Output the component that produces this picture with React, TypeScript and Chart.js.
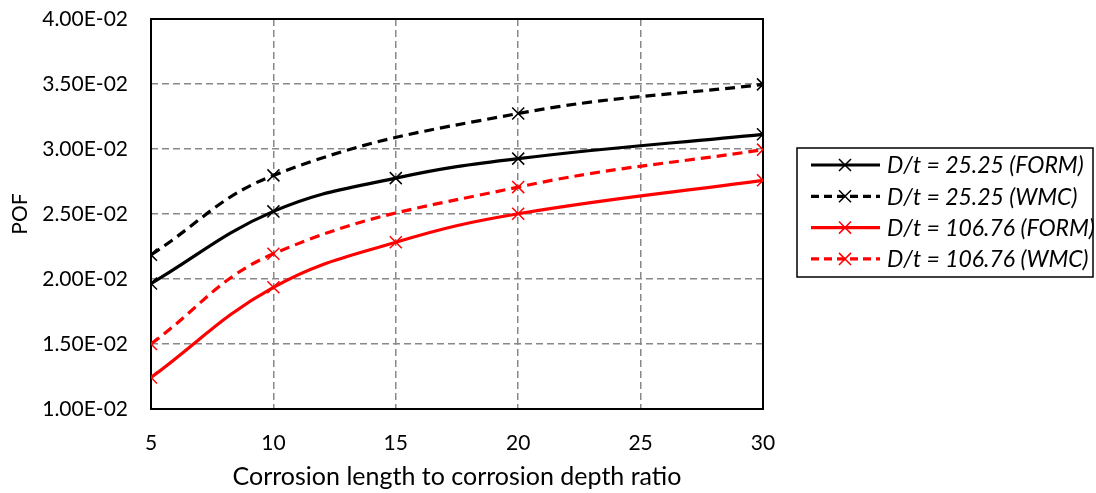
import React, { useEffect, useRef } from 'react';
import { Chart, registerables } from 'chart.js';

Chart.register(...registerables);

// Data (POF values)
const xForm = [5, 10, 15, 20, 30];
const xWmc = [5, 10, 20, 30];
const formThick = [0.01965, 0.0252, 0.02776, 0.02926, 0.03113];
const wmcThick = [0.02186, 0.02797, 0.03273, 0.03497];
const formThin = [0.01242, 0.01936, 0.02283, 0.02502, 0.02759];
const wmcThin = [0.015, 0.02194, 0.02707, 0.02995];
const seriesLabels = [
  'D/t = 25.25 (FORM)',
  'D/t = 25.25 (WMC)',
  'D/t = 106.76 (FORM)',
  'D/t = 106.76 (WMC)',
];
const xTitle = 'Corrosion length to corrosion depth ratio';
const yTitle = 'POF';

const FONT = 'Lato, "Open Sans", sans-serif';

const fmtSci = (v: number) =>
  v.toExponential(2).toUpperCase().replace(/E([+-])(\d)$/, 'E$10$2');

const toPts = (xs: number[], ys: number[]) => xs.map((x, i) => ({ x, y: ys[i] }));

const boxPlugin = {
  id: 'plotBox',
  beforeDatasetsDraw(chart: any) {
    const { ctx, chartArea } = chart;
    ctx.save();
    ctx.strokeStyle = '#000';
    ctx.lineWidth = 2;
    ctx.setLineDash([]);
    ctx.strokeRect(chartArea.left, chartArea.top, chartArea.right - chartArea.left, chartArea.bottom - chartArea.top);
    ctx.restore();
  },
};

const legendPlugin = {
  id: 'customLegend',
  afterDraw(chart: any) {
    const { ctx } = chart;
    const bx = 797, by = 148, bw = 296, bh = 129;
    ctx.save();
    ctx.strokeStyle = '#000';
    ctx.lineWidth = 1.5;
    ctx.setLineDash([]);
    ctx.strokeRect(bx, by, bw, bh);
    const rowY0 = 165;
    const rowH = 31.3;
    chart.data.datasets.forEach((ds: any, i: number) => {
      const y = rowY0 + i * rowH;
      ctx.strokeStyle = ds.borderColor;
      ctx.lineWidth = ds.borderWidth;
      ctx.setLineDash(ds.borderDash && ds.borderDash.length ? [8, 5] : []);
      ctx.beginPath();
      ctx.moveTo(811, y);
      ctx.lineTo(880, y);
      ctx.stroke();
      ctx.setLineDash([]);
      ctx.lineWidth = ds.pointBorderWidth;
      ctx.strokeStyle = ds.pointBorderColor;
      const r = ds.pointRadius * Math.SQRT1_2;
      ctx.beginPath();
      ctx.moveTo(845 - r, y - r);
      ctx.lineTo(845 + r, y + r);
      ctx.moveTo(845 - r, y + r);
      ctx.lineTo(845 + r, y - r);
      ctx.stroke();
      ctx.fillStyle = '#000';
      ctx.font = `italic 23px ${FONT}`;
      ctx.textBaseline = 'middle';
      ctx.textAlign = 'left';
      ctx.fillText(ds.label, 887, y + 1);
    });
    ctx.restore();
  },
};

export default function App() {
  const ref = useRef<HTMLCanvasElement>(null);
  useEffect(() => {
    document.body.style.margin = '0';
    const mk = (label: string, xs: number[], ys: number[], color: string, dashed: boolean) => ({
      label,
      data: toPts(xs, ys),
      borderColor: color,
      backgroundColor: color,
      borderWidth: 3.2,
      borderDash: dashed ? [10, 6] : [],
      tension: 0.4,
      pointStyle: 'crossRot',
      pointRadius: 8.5,
      pointBorderWidth: 1.5,
      pointBorderColor: color,
      fill: false,
    });
    const chart = new Chart(ref.current as HTMLCanvasElement, {
      type: 'line',
      data: {
        datasets: [
          mk(seriesLabels[0], xForm, formThick, '#000000', false),
          mk(seriesLabels[1], xWmc, wmcThick, '#000000', true),
          mk(seriesLabels[2], xForm, formThin, '#ff0000', false),
          mk(seriesLabels[3], xWmc, wmcThin, '#ff0000', true),
        ] as any,
      },
      options: {
        animation: false,
        responsive: false,
        layout: { padding: { top: 19, right: 333, left: 0, bottom: 0 } },
        plugins: { legend: { display: false }, tooltip: { enabled: false } },
        scales: {
          x: {
            type: 'linear',
            min: 5,
            max: 30,
            ticks: { stepSize: 5, color: '#000', font: { family: FONT, size: 21 }, padding: 22, maxRotation: 0 },
            grid: { color: '#888888', lineWidth: 1.5, drawTicks: false },
            border: { display: false, dash: [7, 4] },
            title: { display: true, text: xTitle, color: '#000', font: { family: FONT, size: 25 }, padding: { top: 0, bottom: 1 } },
            afterFit: (s: any) => { s.height = 84; s.paddingLeft = 0; s.paddingRight = 0; },
          },
          y: {
            type: 'linear',
            min: 0.01,
            max: 0.04,
            ticks: { stepSize: 0.005, color: '#000', font: { family: FONT, size: 21 }, padding: 23, callback: (v: any) => fmtSci(Number(v)) },
            grid: { color: '#888888', lineWidth: 1.5, drawTicks: false },
            border: { display: false, dash: [7, 4] },
            title: { display: true, text: yTitle, color: '#000', font: { family: FONT, size: 21 }, padding: { top: 8, bottom: 0 } },
            afterFit: (s: any) => { s.width = 151; s.paddingTop = 0; s.paddingBottom = 0; },
          },
        },
      },
      plugins: [boxPlugin, legendPlugin],
    });
    return () => chart.destroy();
  }, []);
  return <canvas ref={ref} width={1096} height={493} style={{ display: 'block' }} />;
}
